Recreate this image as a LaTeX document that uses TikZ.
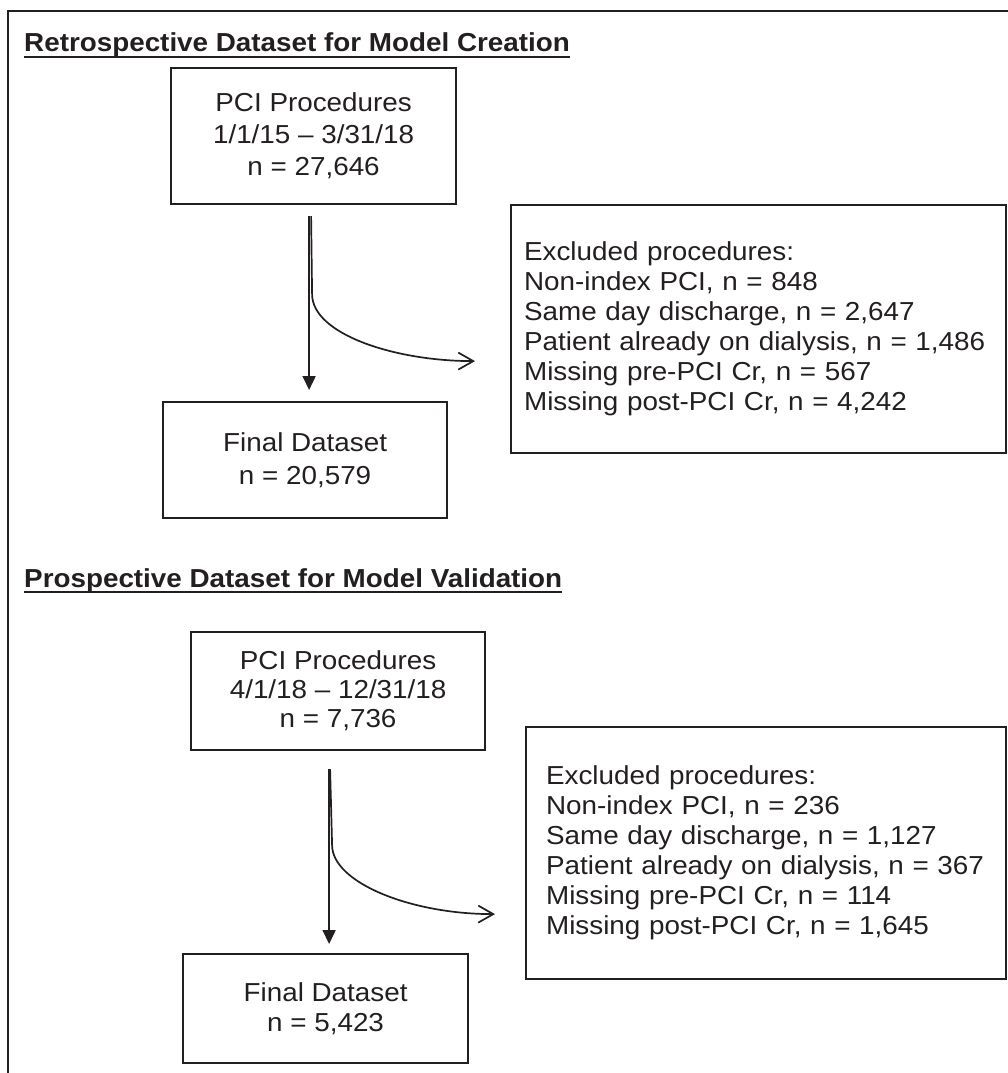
\documentclass[tikz,border=0pt]{standalone}
\usepackage{fontspec}
\setmainfont[FakeStretch=1.07]{Liberation Sans}
\usetikzlibrary{arrows.meta}
\definecolor{ink}{RGB}{35,31,32}
\begin{document}
\begin{tikzpicture}[x=1pt,y=-1pt,
  box/.style={draw=ink, line width=2.2pt, inner sep=0pt, text=ink, align=center, anchor=north west},
  exbox/.style={draw=ink, line width=2.2pt, inner ysep=0pt, text=ink, align=left, anchor=north west,
     font=\fontsize{26}{30}\selectfont},
  heading/.style={anchor=base west, inner sep=0pt, text=ink, font=\bfseries\fontsize{26}{30}\selectfont},
  uline/.style={draw=ink, line width=2.2pt},
  mainarrow/.style={draw=ink, line width=1.7pt, -{Triangle[length=14pt,width=13pt]}},
  bendarrow/.style={draw=ink, line width=1.7pt, -{Straight Barb[length=15pt,width=17pt]}}]
\useasboundingbox (0,0) rectangle (1008,1073);
\fill[white] (0,0) rectangle (1008,1073);
% outer frame (cut by the page)
\draw[ink, line width=2pt] (8,1073) -- (8,11) -- (1008,11);

% ---------- Retrospective ----------
\node[heading] (h1) at (24,52) {Retrospective Dataset for Model Creation};
\draw[uline] ([yshift=-5pt]h1.base west) -- ([yshift=-5pt]h1.base east);

\node[box, minimum width=285pt, minimum height=136pt, font=\fontsize{26}{32}\selectfont]
  (pci1) at (170,67) {PCI Procedures\\1/1/15 – 3/31/18\\n = 27,646};
\node[box, minimum width=284pt, minimum height=116pt, font=\fontsize{26}{33}\selectfont]
  (fin1) at (162,401) {Final Dataset\\n = 20,579};
\node[exbox, inner xsep=13pt, text width=469pt, minimum width=495pt, minimum height=248pt]
  (excl1) at (510,204) {Excluded procedures:\\Non-index PCI, n = 848\\Same day discharge, n = 2,647\\Patient already on dialysis, n = 1,486\\Missing pre-PCI Cr, n = 567\\Missing post-PCI Cr, n = 4,242};

\coordinate (s1) at ([xshift=-4.5pt,yshift=-11pt]pci1.south);
\coordinate (c1) at ([xshift=2pt]s1);
\coordinate (b1) at ([xshift=3pt,yshift=-78pt]s1);
\coordinate (t1) at ([xshift=-35pt,yshift=-32pt]excl1.west);
\draw[mainarrow, shorten >=11pt] (s1) -- (s1 |- fin1.north);
\draw[bendarrow] (c1) -- (b1) .. controls +(0,40) and +(-80,0) .. (t1);

% ---------- Prospective ----------
\node[heading] (h2) at (24,587) {Prospective Dataset for Model Validation};
\draw[uline] ([yshift=-5pt]h2.base west) -- ([yshift=-5pt]h2.base east);

\node[box, minimum width=294pt, minimum height=118pt, font=\fontsize{26}{29}\selectfont]
  (pci2) at (190,631) {PCI Procedures\\4/1/18 – 12/31/18\\n = 7,736};
\node[box, minimum width=285pt, minimum height=109pt, font=\fontsize{26}{30}\selectfont]
  (fin2) at (182,953) {Final Dataset\\n = 5,423};
\node[exbox, inner xsep=20pt, text width=440pt, minimum width=480pt, minimum height=252pt]
  (excl2) at (525,726) {Excluded procedures:\\Non-index PCI, n = 236\\Same day discharge, n = 1,127\\Patient already on dialysis, n = 367\\Missing pre-PCI Cr, n = 114\\Missing post-PCI Cr, n = 1,645};

\coordinate (s2) at ([xshift=-9pt,yshift=-18pt]pci2.south);
\coordinate (c2) at ([xshift=1pt]s2);
\coordinate (b2) at ([xshift=3pt,yshift=-76pt]s2);
\coordinate (t2) at ([xshift=-30pt,yshift=-61pt]excl2.west);
\draw[mainarrow, shorten >=9pt] (s2) -- (s2 |- fin2.north);
\draw[bendarrow] (c2) -- (b2) .. controls +(0,37) and +(-85,0) .. (t2);
\end{tikzpicture}
\end{document}
